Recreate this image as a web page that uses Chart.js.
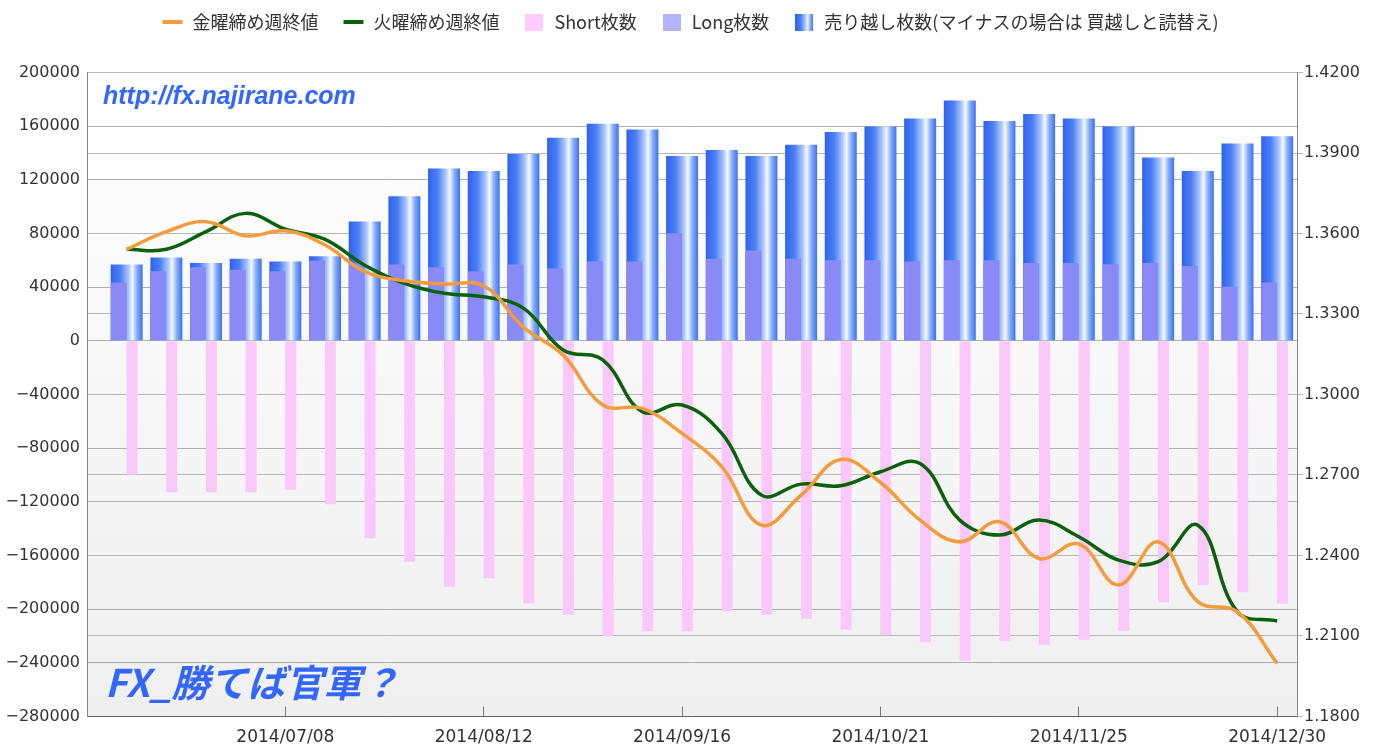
<!DOCTYPE html>
<html lang="ja">
<head>
<meta charset="utf-8">
<title>IMM EUR positions</title>
<script src="https://cdn.jsdelivr.net/npm/chart.js@4.4.0/dist/chart.umd.min.js"></script>
<style>
  html, body { margin: 0; padding: 0; background: #fff; }
  #wrap { width: 1380px; height: 745px; }
</style>
</head>
<body>
<div id="wrap"><canvas id="chart" width="1380" height="745"></canvas></div>
<script>
// DATA
const dates = [
  "2014/06/10", "2014/06/17", "2014/06/24", "2014/07/01", "2014/07/08",
  "2014/07/15", "2014/07/22", "2014/07/29", "2014/08/05", "2014/08/12",
  "2014/08/19", "2014/08/26", "2014/09/02", "2014/09/09", "2014/09/16",
  "2014/09/23", "2014/09/30", "2014/10/07", "2014/10/14", "2014/10/21",
  "2014/10/28", "2014/11/04", "2014/11/11", "2014/11/18", "2014/11/25",
  "2014/12/02", "2014/12/09", "2014/12/16", "2014/12/23", "2014/12/30"
];
const tickLabels = ["2014/07/08", "2014/08/12", "2014/09/16", "2014/10/21", "2014/11/25", "2014/12/30"];

const fridayClose = [
  1.3541, 1.3607, 1.3644, 1.3591, 1.3610, 1.3557, 1.3458, 1.3424, 1.3412, 1.3405,
  1.3251, 1.3147, 1.2961, 1.2948, 1.2855, 1.2731, 1.2513, 1.2625, 1.2758, 1.2672,
  1.2532, 1.2451, 1.2526, 1.2389, 1.2443, 1.2290, 1.2451, 1.2228, 1.2190, 1.1998
];
const tuesdayClose = [
  1.3541, 1.3541, 1.3607, 1.3675, 1.3616, 1.3578, 1.3482, 1.3414, 1.3377, 1.3364,
  1.3322, 1.3166, 1.3129, 1.2936, 1.2961, 1.2855, 1.2625, 1.2666, 1.2660, 1.2712,
  1.2743, 1.2532, 1.2476, 1.2532, 1.2470, 1.2383, 1.2377, 1.2513, 1.2190, 1.2156
];
const shortCount = [
  -99900, -112800, -112800, -112800, -111000, -121800, -147200, -164600, -183200, -177000,
  -195700, -204100, -220000, -216500, -216500, -201600, -204100, -207100, -215300, -219500,
  -224700, -238400, -223500, -226500, -222800, -216300, -194900, -182000, -187400, -195700
];
const longCount = [
  43400, 51900, 54900, 52900, 51900, 59600, 57600, 56900, 54900, 51900,
  56900, 53900, 59300, 59100, 80200, 61100, 67300, 61100, 60100, 60100,
  59100, 60100, 60100, 58100, 58100, 57100, 58100, 55800, 40400, 43400
];
const netShort = [
  56900, 62100, 58100, 61100, 59100, 63100, 88900, 107800, 128500, 126500,
  139200, 151300, 161800, 157600, 137700, 142200, 137700, 146100, 155600, 159800,
  165800, 179200, 163800, 169000, 165800, 159800, 136700, 126500, 147100, 152400
];

// SCALE RANGES
const X_MIN = -1, X_MAX = dates.length - 0.5;
const LONG_SHIFT = -0.2, SHORT_SHIFT = 0.135;
const LEFT_MIN = -280000, LEFT_MAX = 200000, LEFT_STEP = 40000;
const RIGHT_MIN = 1.18, RIGHT_MAX = 1.42, RIGHT_STEP = 0.03;

const ORANGE = "#f39b3d";
const GREEN = "#0b610b";
const PINK = "#fac8fa";
const LAVENDER = "#8a8af6";

const FONT = '"Noto Sans CJK JP", "Noto Sans", sans-serif';
const TICK_FONT = '"DejaVu Sans", sans-serif';
Chart.defaults.font.family = FONT;
Chart.defaults.color = "#333";

const toXY = (arr) => arr.map((v, i) => ({ x: i, y: v }));

function barGradient(g2d, x0, x1) {
  const g = g2d.createLinearGradient(x0, 0, x1, 0);
  g.addColorStop(0, "#2f62ee");
  g.addColorStop(0.3, "#4c7ff3");
  g.addColorStop(0.55, "#a8c5fb");
  g.addColorStop(0.68, "#f6f9ff");
  g.addColorStop(0.82, "#8aaff7");
  g.addColorStop(1, "#3a72ef");
  return g;
}

// legend swatches
function swatch(w, h, draw) {
  const c = document.createElement("canvas");
  c.width = w;
  c.height = h;
  draw(c.getContext("2d"), w, h);
  return c;
}
const swatches = [
  swatch(22, 16, (g) => { g.fillStyle = ORANGE; g.fillRect(1, 6, 20, 4); }),
  swatch(22, 16, (g) => { g.fillStyle = GREEN; g.fillRect(1, 6, 20, 4); }),
  swatch(18, 17, (g, w, h) => { g.fillStyle = "#ffccff"; g.fillRect(0, 0, w, h); }),
  swatch(18, 17, (g, w, h) => { g.fillStyle = "#b3b3ff"; g.fillRect(0, 0, w, h); }),
  swatch(18, 17, (g, w, h) => { g.fillStyle = barGradient(g, 0, w); g.fillRect(0, 0, w, h); })
];

// plugins
const legendHeight = {
  id: "legendHeight",
  beforeInit(chart) {
    const fit = chart.legend.fit;
    chart.legend.fit = function () {
      fit.call(this);
      this.height = 69.5;
    };
  },
  afterLayout(chart) {
    // pull the legend row up, keep the plot where it is
    chart.legend.top -= 14;
  }
};

const plotBackground = {
  id: "plotBackground",
  beforeDraw(chart) {
    const { ctx, chartArea: { left, top, right, bottom } } = chart;
    const g = ctx.createLinearGradient(0, top, 0, bottom);
    g.addColorStop(0, "#ffffff");
    g.addColorStop(1, "#efefef");
    ctx.save();
    ctx.fillStyle = g;
    ctx.fillRect(left, top, right - left, bottom - top);
    ctx.restore();
  }
};

const watermark = {
  id: "watermark",
  afterDraw(chart) {
    const { ctx, chartArea: { left, top, bottom } } = chart;
    ctx.save();
    ctx.fillStyle = "#3366ff";
    ctx.shadowColor = "rgba(255,255,255,0.9)";
    ctx.shadowBlur = 3;
    ctx.textBaseline = "alphabetic";
    ctx.font = 'italic bold 25px "Liberation Sans", sans-serif';
    ctx.fillText("http://fx.najirane.com", left + 16, top + 31);
    ctx.font = 'italic bold 38px ' + FONT;
    ctx.fillText("FX_勝てば官軍？", left + 18, bottom - 20);
    ctx.restore();
  }
};

const minus = (s) => s.replace("-", "\u2212");

// CHART
new Chart(document.getElementById("chart"), {
  type: "bar",
  data: {
    datasets: [
      {
        type: "line",
        label: "金曜締め週終値",
        data: toXY(fridayClose),
        xAxisID: "x",
        yAxisID: "y1",
        borderColor: ORANGE,
        backgroundColor: ORANGE,
        borderWidth: 3.5,
        pointRadius: 0,
        tension: 0.4,
        fill: false
      },
      {
        type: "line",
        label: "火曜締め週終値",
        data: toXY(tuesdayClose),
        xAxisID: "x",
        yAxisID: "y1",
        borderColor: GREEN,
        backgroundColor: GREEN,
        borderWidth: 3.5,
        pointRadius: 0,
        tension: 0.4,
        fill: false
      },
      {
        label: "Short枚数",
        data: toXY(shortCount),
        xAxisID: "xShort",
        yAxisID: "y",
        backgroundColor: PINK,
        grouped: false,
        categoryPercentage: 1,
        barPercentage: 0.277
      },
      {
        label: "Long枚数",
        data: toXY(longCount),
        xAxisID: "xLong",
        yAxisID: "y",
        backgroundColor: LAVENDER,
        grouped: false,
        categoryPercentage: 1,
        barPercentage: 0.403
      },
      {
        label: "売り越し枚数(マイナスの場合は 買越しと読替え)",
        data: toXY(netShort),
        xAxisID: "x",
        yAxisID: "y",
        grouped: false,
        categoryPercentage: 1,
        barPercentage: 0.806,
        backgroundColor: (c) => {
          if (c.type !== "data" || !c.chart.chartArea) return "#4a7ef0";
          const xs = c.chart.scales.x;
          const half = (xs.getPixelForValue(1) - xs.getPixelForValue(0)) * 0.806 / 2;
          const cx = xs.getPixelForValue(c.parsed.x);
          return barGradient(c.chart.ctx, cx - half, cx + half);
        }
      }
    ]
  },
  options: {
    responsive: false,
    animation: false,
    layout: { padding: { top: 3, left: 0, right: 0, bottom: 0 } },
    plugins: {
      legend: {
        position: "top",
        labels: {
          usePointStyle: true,
          pointStyleWidth: 22,
          padding: 24,
          font: { size: 18 },
          color: "#333",
          generateLabels: (chart) =>
            chart.data.datasets.map((ds, i) => ({
              text: ds.label,
              datasetIndex: i,
              pointStyle: swatches[i],
              fillStyle: "transparent",
              strokeStyle: "transparent",
              lineWidth: 0,
              fontColor: "#333",
              hidden: false
            }))
        }
      },
      tooltip: { enabled: false }
    },
    scales: {
      x: {
        type: "linear",
        position: "bottom",
        min: X_MIN,
        max: X_MAX,
        offset: false,
        afterFit: (s) => { s.height = 28.5; },
        afterBuildTicks: (axis) => {
          axis.ticks = tickLabels.map((l) => ({ value: dates.indexOf(l) }));
        },
        grid: { offset: false, drawOnChartArea: false, tickLength: -10, color: "#777" },
        border: { color: "#666" },
        ticks: {
          autoSkip: false,
          maxRotation: 0,
          padding: 21,
          font: { family: TICK_FONT, size: 17 },
          color: "#333",
          callback: (v) => dates[v]
        }
      },
      xLong: {
        type: "linear",
        display: false,
        offset: false,
        min: X_MIN - LONG_SHIFT,
        max: X_MAX - LONG_SHIFT
      },
      xShort: {
        type: "linear",
        display: false,
        offset: false,
        min: X_MIN - SHORT_SHIFT,
        max: X_MAX - SHORT_SHIFT
      },
      y: {
        position: "left",
        min: LEFT_MIN,
        max: LEFT_MAX,
        afterFit: (s) => { s.width = 87; },
        grid: { color: "#b0b0b0", drawTicks: false },
        border: { color: "#888" },
        ticks: {
          stepSize: LEFT_STEP,
          padding: 7,
          font: { family: TICK_FONT, size: 16 },
          color: "#333",
          callback: (v) => minus(String(v))
        }
      },
      y1: {
        position: "right",
        min: RIGHT_MIN,
        max: RIGHT_MAX,
        afterFit: (s) => { s.width = 83; },
        grid: { color: "#b8b8b8", tickLength: 6 },
        border: { color: "#888" },
        ticks: {
          stepSize: RIGHT_STEP,
          padding: 1,
          font: { family: TICK_FONT, size: 16 },
          color: "#333",
          callback: (v) => v.toFixed(4)
        }
      }
    }
  },
  plugins: [legendHeight, plotBackground, watermark]
});
</script>
</body>
</html>
